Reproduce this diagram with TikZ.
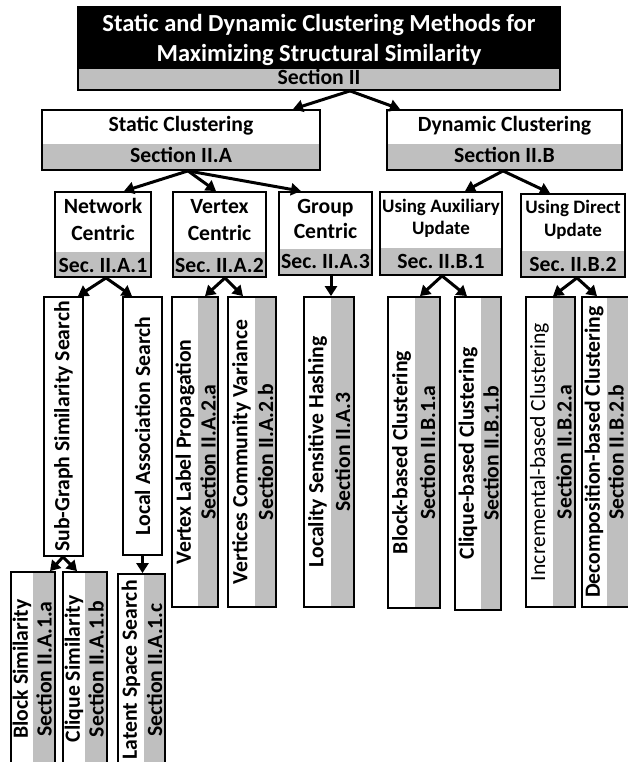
\documentclass[tikz,border=0pt]{standalone}
\usepackage{fontspec}
\setmainfont{Carlito}
\usetikzlibrary{arrows.meta}
\frenchspacing

\definecolor{bandgray}{RGB}{191,191,191}

\tikzset{
  frame/.style={draw=black, line width=1.8pt, inner sep=0pt},
  txt/.style={font=\bfseries\fontsize{21.7}{24}\selectfont, inner sep=0pt},
  smalltxt/.style={font=\bfseries\fontsize{19}{22}\selectfont, inner sep=0pt},
  titletxt/.style={font=\bfseries\fontsize{24.5}{28}\selectfont, text=white, inner sep=0pt},
  coltext/.style={txt, rotate=90},
  arr/.style={line width=3pt, -{Triangle[length=10pt,width=12pt]}},
}

% framed box node: name, left, top, right, bottom
\newcommand{\mkframe}[5]{%
  \node[frame, minimum width={(#4)-(#2)}, minimum height={(#5)-(#3)}]
    (#1) at ({((#2)+(#4))/2},{((#3)+(#5))/2}) {};}

% tall box with rotated title and a grey section band on its right
% name, left, right, top, bottom, band start, title, section
\newcommand{\colbox}[8]{%
  \fill[bandgray] (#6,#4) rectangle (#3,#5);
  \mkframe{#1}{#2}{#4}{#3}{#5}
  \node[coltext] (#1-a) at ({((#2)+(#6))/2},{((#4)+(#5))/2}) {#7};
  \node[coltext] (#1-b) at ({((#6)+(#3))/2},{((#4)+(#5))/2}) {#8};}

\begin{document}
\begin{tikzpicture}[x=1pt, y=-1pt]
\useasboundingbox (0,0) rectangle (628,762);

% ---------- root ----------
\fill[black] (78,7) rectangle (560,69);
\fill[bandgray] (78,69) rectangle (560,90);
\mkframe{top}{78}{7}{560}{90}
\node[titletxt, anchor=base] (top-a) at (319,32) {Static and Dynamic Clustering Methods for};
\node[titletxt, anchor=base] (top-b) at (319,62) {Maximizing Structural Similarity};
\node[txt, anchor=base] (top-c) at (319,85) {Section II};

% ---------- level 2 ----------
\fill[bandgray] (42,144) rectangle (320,170);
\mkframe{static}{42}{110}{320}{170}
\node[txt, anchor=base] (static-a) at (181,132) {Static Clustering};
\node[txt, anchor=base] (static-b) at (181,163) {Section II.A};

\fill[bandgray] (387,144) rectangle (622,170);
\mkframe{dyn}{387}{110}{622}{170}
\node[txt, anchor=base] (dyn-a) at (504.5,132) {Dynamic Clustering};
\node[txt, anchor=base] (dyn-b) at (504.5,163) {Section II.B};

% ---------- level 3 ----------
\fill[bandgray] (55,252) rectangle (151,277);
\mkframe{net}{55}{192}{151}{277}
\node[txt, anchor=base] (net-a) at (103,213) {Network};
\node[txt, anchor=base] (net-b) at (103,240) {Centric};
\node[txt, anchor=base] (net-c) at (103,272) {Sec. II.A.1};

\fill[bandgray] (173,252) rectangle (266,277);
\mkframe{vtx}{173}{192}{266}{277}
\node[txt, anchor=base] (vtx-a) at (219.5,213) {Vertex};
\node[txt, anchor=base] (vtx-b) at (219.5,240) {Centric};
\node[txt, anchor=base] (vtx-c) at (219.5,272) {Sec. II.A.2};

\fill[bandgray] (279,249) rectangle (372,275);
\mkframe{grp}{279}{192}{372}{275}
\node[txt, anchor=base] (grp-a) at (325.5,213) {Group};
\node[txt, anchor=base] (grp-b) at (325.5,238) {Centric};
\node[txt, anchor=base] (grp-c) at (325.5,268) {Sec. II.A.3};

\fill[bandgray] (380,248) rectangle (502,275);
\mkframe{aux}{380}{192}{502}{275}
\node[smalltxt, anchor=base] (aux-a) at (441,212) {Using Auxiliary};
\node[smalltxt, anchor=base] (aux-b) at (441,234) {Update};
\node[txt, anchor=base] (aux-c) at (441,268) {Sec. II.B.1};

\fill[bandgray] (521,251) rectangle (625,277);
\mkframe{dir}{521}{194}{625}{277}
\node[smalltxt, anchor=base] (dir-a) at (573,213) {Using Direct};
\node[smalltxt, anchor=base] (dir-b) at (573,236) {Update};
\node[txt, anchor=base] (dir-c) at (573,271) {Sec. II.B.2};

% ---------- level 4 ----------
\mkframe{sub}{44}{297}{83}{556}
\node[coltext] (sub-a) at (63.5,426.5) {Sub-Graph Similarity Search};
\mkframe{loc}{123}{297}{162}{555}
\node[coltext] (loc-a) at (142.5,426) {Local Association Search};

\colbox{vlp}{172}{218}{297}{607}{198}{Vertex Label Propagation}{Section II.A.2.a}
\colbox{vcv}{228}{276}{297}{607}{255}{Vertices Community Variance}{Section II.A.2.b}
\colbox{lsh}{304}{354}{297}{607}{331}{Locality Sensitive Hashing}{Section II.A.3}
\colbox{bbc}{388}{440}{297}{608}{415}{Block-based Clustering}{Section II.B.1.a}
\colbox{cbc}{455}{501}{297}{610}{481}{Clique-based Clustering}{Section II.B.1.b}
\colbox{inc}{526}{575}{297}{607}{553}{{\mdseries Incremental-based Clustering}}{Section II.B.2.a}

% last box runs against the right edge
\fill[bandgray] (607,297) rectangle (630,607);
\mkframe{dec}{582}{297}{630}{607}
\node[coltext] (dec-a) at (594,452) {Decomposition-based Clustering};
\node[coltext] (dec-b) at (616,452) {Section II.B.2.b};

% ---------- level 5 ----------
\colbox{bsim}{11}{55}{572}{766}{33}{Block Similarity}{Section II.A.1.a}
\colbox{csim}{63}{107}{572}{766}{85}{Clique Similarity}{Section II.A.1.b}
\colbox{lat}{118}{165}{574}{766}{144}{Latent Space Search}{Section II.A.1.c}

% ---------- connectors ----------
\draw[arr] (top.south -| 350,0) -- (static.north -| 293,0);
\draw[arr] (top.south -| 350,0) -- (dyn.north -| 400,0);

\draw[arr] (static.south -| 188,0) -- (net.north -| 124,0);
\draw[arr] (static.south -| 188,0) -- (vtx.north -| 216,0);
\draw[arr] (static.south -| 188,0) -- (grp.north -| 301,0);

\draw[arr] (dyn.south -| 503,0) -- (aux.north -| 465,0);
\draw[arr] (dyn.south -| 503,0) -- (dir.north -| 550,0);

\draw[arr] (net.south -| 106,0) -- (sub.north -| 78,0);
\draw[arr] (net.south -| 106,0) -- (loc.north -| 132,0);

\draw[arr] (vtx.south -| 225,0) -- (vlp.north -| 205,0);
\draw[arr] (vtx.south -| 225,0) -- (vcv.north -| 243,0);

\draw[arr] (grp.south -| 331,0) -- (lsh.north -| 331,0);

\draw[arr] (aux.south -| 442,0) -- (bbc.north -| 420,0);
\draw[arr] (aux.south -| 442,0) -- (cbc.north -| 467,0);

\draw[arr] (dir.south -| 577,0) -- (inc.north -| 553,0);
\draw[arr] (dir.south -| 577,0) -- (dec.north -| 597,0);

\draw[arr] (sub.south -| 63,0) -- (bsim.north -| 50,0);
\draw[arr] (sub.south -| 63,0) -- (csim.north -| 77,0);

\draw[arr] (loc.south) -- (lat.north -| loc.south);
\end{tikzpicture}
\end{document}
